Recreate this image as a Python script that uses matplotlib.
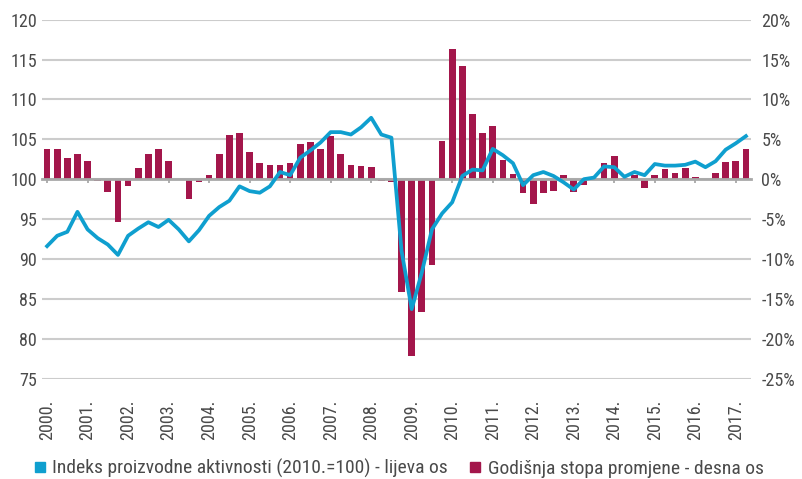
import matplotlib
matplotlib.use("Agg")
import matplotlib.pyplot as plt
from matplotlib import font_manager
from matplotlib.lines import Line2D
from matplotlib.ticker import FixedLocator, FuncFormatter
import numpy as np

# ---------------- data ----------------
years = list(range(2000, 2018))
year_labels = [f"{y}." for y in years]

index_values = [
    91.6, 92.9, 93.4, 95.9,      # 2000
    93.7, 92.6, 91.8, 90.5,      # 2001
    92.9, 93.8, 94.6, 94.0,      # 2002
    94.9, 93.7, 92.2, 93.6,      # 2003
    95.4, 96.5, 97.3, 99.1,      # 2004
    98.5, 98.3, 99.1, 100.9,     # 2005
    100.5, 102.7, 103.6, 104.6,  # 2006
    105.9, 105.9, 105.6, 106.5,  # 2007
    107.7, 105.6, 105.2, 91.0,   # 2008
    83.7, 88.3, 93.7, 95.7,      # 2009
    97.1, 100.4, 101.2, 101.1,   # 2010
    103.8, 103.0, 102.0, 99.25,  # 2011
    100.5, 100.9, 100.4, 99.6,   # 2012
    98.7, 100.0, 100.2, 101.6,   # 2013
    101.5, 100.3, 100.9, 100.5,  # 2014
    101.9, 101.7, 101.7, 101.8,  # 2015
    102.2, 101.5, 102.25, 103.7, # 2016
    104.5, 105.4,                # 2017
]

annual_change = [
    3.83, 3.83, 2.6, 3.1,        # 2000
    2.3, -0.25, -1.6, -5.4,      # 2001
    -0.9, 1.46, 3.1, 3.83,       # 2002
    2.33, -0.1, -2.5, -0.4,      # 2003
    0.58, 3.1, 5.6, 5.83,        # 2004
    3.46, 2.08, 1.83, 1.83,      # 2005
    2.08, 4.46, 4.7, 3.83,       # 2006
    5.46, 3.1, 1.83, 1.7,        # 2007
    1.58, -0.25, -0.37, -14.1,   # 2008
    -22.2, -16.6, -10.8, 4.83,   # 2009
    16.3, 14.2, 8.2, 5.83,       # 2010
    6.7, 2.46, 0.7, -1.75,       # 2011
    -3.1, -1.75, -1.5, 0.46,     # 2012
    -1.6, -0.75, 0.05, 2.05,     # 2013
    2.85, 0.15, 0.5, -1.1,       # 2014
    0.46, 1.3, 0.8, 1.45,        # 2015
    0.3, 0.05, 0.8, 2.1,         # 2016
    2.3, 3.8,                    # 2017
]

left_ticks = [75, 80, 85, 90, 95, 100, 105, 110, 115, 120]
right_ticks = [-25, -20, -15, -10, -5, 0, 5, 10, 15, 20]

label_index = "Indeks proizvodne aktivnosti (2010.=100) - lijeva os"
label_change = "Godišnja stopa promjene - desna os"

# ---------------- style ----------------
def pick_font():
    for fam in ["Liberation Sans Narrow", "Roboto Condensed", "DejaVu Sans"]:
        try:
            font_manager.findfont(font_manager.FontProperties(family=fam),
                                  fallback_to_default=False)
            return fam
        except Exception:
            continue
    return "DejaVu Sans"

FONT = pick_font()
plt.rcParams['font.family'] = [FONT, 'DejaVu Sans']
TXT = '#4a4a4a'
LINE_C = '#0f9fcf'
BAR_C = '#a3164b'
GRID_C = '#cccccc'
ZERO_C = '#a8a8a8'
FS = 13
LFS = 14

fig = plt.figure(figsize=(8.03, 4.79), dpi=100)
ax = fig.add_axes([42/803, 1-378.5/479, 709/803, (378.5-19.7)/479])
ax2 = ax.twinx()

n = len(index_values)
x = np.arange(n)

# bars and grid on the right axis (drawn first)
ax2.set_ylim(-25, 20)
ax2.yaxis.set_major_locator(FixedLocator(right_ticks))
ax2.yaxis.set_major_formatter(FuncFormatter(lambda v, p: f"{int(v)}%".replace('\u2212', '-')))
ax2.grid(axis='y', color=GRID_C, linewidth=1.5)
ax2.set_axisbelow(True)
ax2.bar(x, annual_change, width=0.66, color=BAR_C, zorder=2)

# zero line with quarter tick marks
for s in ['top', 'left', 'right']:
    ax2.spines[s].set_visible(False)
ax2.xaxis.set_visible(True)
ax2.spines['bottom'].set_visible(True)
ax2.spines['bottom'].set_position(('data', 0))
ax2.spines['bottom'].set_color(ZERO_C)
ax2.spines['bottom'].set_linewidth(2.0)
ax2.spines['bottom'].set_zorder(3)
ax2.xaxis.set_major_locator(FixedLocator(np.arange(-0.5, n, 1.0)))
ax2.tick_params(axis='x', which='major', direction='out', length=3, width=1.3,
                color=ZERO_C, labelbottom=False, labeltop=False, bottom=True, top=False)
ax2.tick_params(axis='y', length=0, pad=7.5, labelsize=FS, labelcolor=TXT)

# line on the left axis, drawn on top
ax.set_zorder(ax2.get_zorder() + 1)
ax.patch.set_visible(False)
ax.plot(x, index_values, color=LINE_C, linewidth=2.7, solid_joinstyle='round', zorder=5)
ax.set_ylim(75, 120)
ax.set_xlim(-0.5, n - 0.5)
ax2.set_xlim(-0.5, n - 0.5)
ax.yaxis.set_major_locator(FixedLocator(left_ticks))
ax.set_xticks([4 * i for i in range(len(years))])
ax.set_xticklabels(year_labels, rotation=90, va='top', ha='center')
ax.tick_params(axis='x', length=0, pad=15, labelsize=FS, labelcolor=TXT)
ax.tick_params(axis='y', length=0, pad=3.5, labelsize=FS, labelcolor=TXT)
for s in ax.spines.values():
    s.set_visible(False)

handles = [
    Line2D([], [], marker='s', linestyle='', markersize=7.5, color=LINE_C),
    Line2D([], [], marker='s', linestyle='', markersize=7.5, color=BAR_C),
]
fig.legend(handles, [label_index, label_change], ncol=2, frameon=False,
           loc='center left', bbox_to_anchor=(32/803, 1-468.5/479),
           fontsize=LFS, labelcolor=TXT, borderpad=0, borderaxespad=0,
           handlelength=0.8, handletextpad=0.25, columnspacing=1.0)

fig.savefig("out.png", dpi=100)
